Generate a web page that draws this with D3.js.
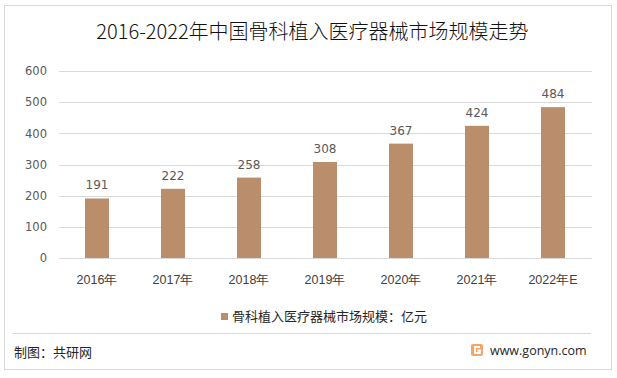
<!DOCTYPE html>
<html>
<head>
<meta charset="utf-8">
<script src="https://cdn.jsdelivr.net/npm/d3@7"></script>
<style>
  html, body { margin: 0; padding: 0; background: #fff; }
  svg { display: block; font-family: "Microsoft YaHei", "Noto Sans CJK SC", sans-serif; }
</style>
</head>
<body>
<svg width="617" height="378"></svg>
<script>
const width = 617;
const height = 378;

const years = ['2016年', '2017年', '2018年', '2019年', '2020年', '2021年', '2022年E'];
const values = [191, 222, 258, 308, 367, 424, 484];
const yTicks = [0, 100, 200, 300, 400, 500, 600];

const title = '2016-2022年中国骨科植入医疗器械市场规模走势';
const legendLabel = '骨科植入医疗器械市场规模：亿元';
const source = '制图：共研网';
const site = 'www.gonyn.com';

const margin = ({top: 71, right: 26, bottom: 120, left: 59});
const barColor = '#BA8D6B';
const textColor = '#595959';

const svg = d3.select('svg');

// outer frame
svg.append('rect')
    .attr('x', 4.5).attr('y', 5.5)
    .attr('width', 607).attr('height', 364)
    .attr('fill', '#fff')
    .attr('stroke', '#d9d9d9');

svg.append('text')
    .attr('x', width / 2 + 4)
    .attr('y', 39)
    .attr('text-anchor', 'middle')
    .attr('font-size', 20)
    .attr('font-weight', 300)
    .attr('fill', '#111')
    .text(title);

const x = d3.scaleBand()
    .domain(years)
    .range([margin.left, width - margin.right - 0])
    .paddingInner(0.684)
    .paddingOuter(0.342);

const y = d3.scaleLinear()
    .domain([0, 600])
    .range([258, 71]);

// gridlines
svg.append('g')
    .attr('stroke', '#d9d9d9')
    .selectAll('line')
    .data(yTicks)
    .join('line')
    .attr('x1', margin.left)
    .attr('x2', 592)
    .attr('y1', d => Math.round(y(d)) + 0.5)
    .attr('y2', d => Math.round(y(d)) + 0.5);

const yAxis = g => g.attr('transform', `translate(${margin.left},0)`)
    .call(d3.axisLeft(y).tickValues(yTicks).tickSize(0).tickPadding(12))
    .call(g => g.select('.domain').remove())
    .call(g => g.selectAll('text')
        .attr('fill', textColor)
        .attr('font-size', 11.5)
        .attr('font-family', '"DejaVu Sans", "Noto Sans", sans-serif'));

svg.append('g').call(yAxis);

svg.append('g')
    .attr('fill', barColor)
    .selectAll('rect')
    .data(values)
    .join('rect')
    .attr('x', (d, i) => x(years[i]))
    .attr('y', d => y(d))
    .attr('width', x.bandwidth())
    .attr('height', d => y(0) - y(d));

svg.append('g')
    .attr('font-size', 12)
    .attr('fill', textColor)
    .attr('text-anchor', 'middle')
    .attr('font-family', '"DejaVu Sans", "Noto Sans", sans-serif')
    .selectAll('text')
    .data(values)
    .join('text')
    .attr('x', (d, i) => x(years[i]) + x.bandwidth() / 2)
    .attr('y', d => y(d) - 9)
    .text(d => d);

const xAxis = g => g.attr('transform', `translate(0,${y(0)})`)
    .call(d3.axisBottom(x).tickSize(0).tickPadding(17))
    .call(g => g.select('.domain').remove())
    .call(g => g.selectAll('text')
        .attr('fill', '#404040')
        .attr('font-size', 12.5));

svg.append('g').call(xAxis);

// legend
svg.append('rect')
    .attr('x', 221).attr('y', 313)
    .attr('width', 7).attr('height', 7)
    .attr('fill', barColor);

svg.append('text')
    .attr('x', 232)
    .attr('y', 321)
    .attr('font-size', 13)
    .attr('fill', '#262626')
    .text(legendLabel);

// footer
svg.append('line')
    .attr('x1', 12).attr('x2', 591)
    .attr('y1', 333.5).attr('y2', 333.5)
    .attr('stroke', '#d9d9d9');

svg.append('text')
    .attr('x', 14)
    .attr('y', 357)
    .attr('font-size', 13)
    .attr('fill', '#262626')
    .text(source);

const logo = svg.append('g').attr('transform', 'translate(471,344)');
logo.append('rect')
    .attr('width', 12).attr('height', 12).attr('rx', 2)
    .attr('fill', '#F2A66B');
logo.append('path')
    .attr('d', 'M9,3 H4 V9 H9 V6.5 H6.5')
    .attr('fill', 'none')
    .attr('stroke', '#fff')
    .attr('stroke-width', 1.8);

svg.append('text')
    .attr('x', 490)
    .attr('y', 355)
    .attr('font-size', 12.5)
    .attr('fill', '#262626')
    .attr('font-family', '"Open Sans", "Noto Sans", sans-serif')
    .text(site);
</script>
</body>
</html>
